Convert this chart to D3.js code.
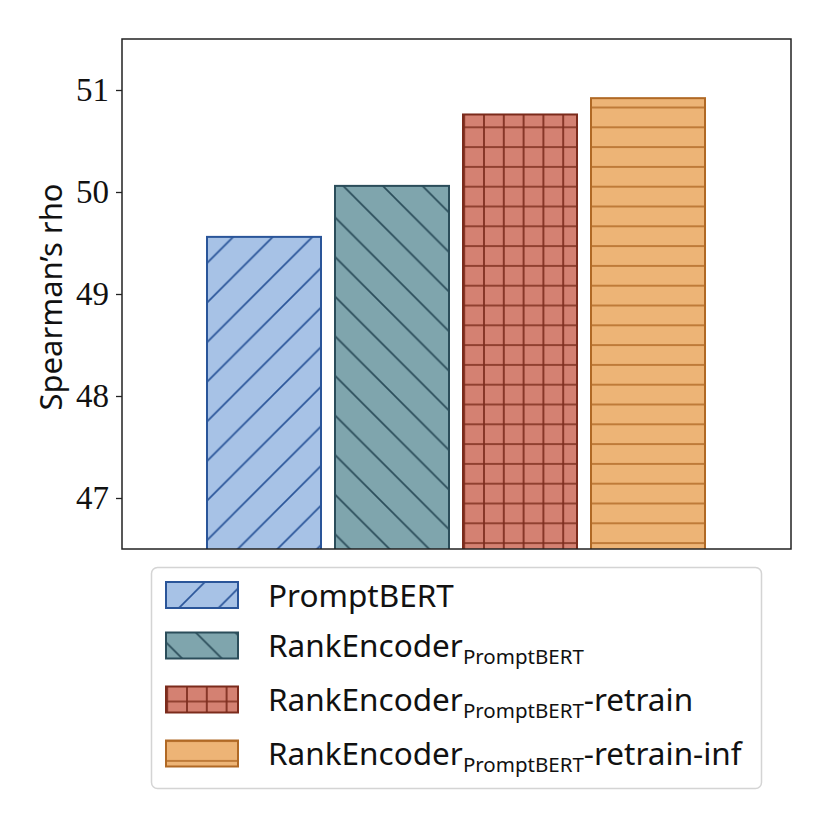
<!DOCTYPE html>
<html>
<head>
<meta charset="utf-8">
<script src="https://cdn.jsdelivr.net/npm/d3@7"></script>
<style>
  body { margin: 0; background: #fff; }
  .tick text { font-family: "Liberation Serif", serif; }
</style>
</head>
<body>
<svg id="chart" width="830" height="830"></svg>
<script>
// chart values
const methods = ["PromptBERT", "RankEncoder", "RankEncoder-retrain", "RankEncoder-retrain-inf"];
const scores = [49.56, 50.06, 50.76, 50.92];
const yTicks = [47, 48, 49, 50, 51];
const legendMain = ["PromptBERT", "RankEncoder", "RankEncoder", "RankEncoder"];
const legendSub = ["", "PromptBERT", "PromptBERT", "PromptBERT"];
const legendTail = ["", "", "-retrain", "-retrain-inf"];
const fills = ["#a7c2e6", "#7fa5ad", "#d48172", "#edb476"];
const edges = ["#2a5599", "#2b4d5a", "#7b2b1c", "#b06925"];
const hatches = ["/", "\\", "+", "-"];

const svg = d3.select("#chart");
const margin = {left: 122, right: 39, top: 39, bottom: 281};
const width = 830 - margin.left - margin.right;
const height = 830 - margin.top - margin.bottom;

// hatch tile size (px) and offsets so the patterns line up like the original
const T = 39.6;
const S = T / 2;

const defs = svg.append("defs");

function makePattern(i) {
  let kind = hatches[i];
  let p = defs.append("pattern")
    .attr("id", "hatch" + i)
    .attr("patternUnits", "userSpaceOnUse");
  let d;
  if (kind === "/") {
    p.attr("width", T).attr("height", T).attr("x", 34.5).attr("y", 0);
    d = `M0,${T}L${T},0M${-T/4},${T/4}L${T/4},${-T/4}M${3*T/4},${5*T/4}L${5*T/4},${3*T/4}`;
  } else if (kind === "\\") {
    p.attr("width", T).attr("height", T).attr("x", 38.5).attr("y", 0);
    d = `M0,0L${T},${T}M${-T/4},${3*T/4}L${T/4},${5*T/4}M${3*T/4},${-T/4}L${5*T/4},${T/4}`;
  } else if (kind === "+") {
    p.attr("width", S).attr("height", S).attr("x", 8.8).attr("y", 8.5);
    d = `M0,0V${S}M${S},0V${S}M0,0H${S}M0,${S}H${S}`;
  } else {
    p.attr("width", S).attr("height", S).attr("x", 0).attr("y", 8.5);
    d = `M0,0H${S}M0,${S}H${S}`;
  }
  p.append("path")
    .attr("d", d)
    .attr("fill", "none")
    .attr("stroke", edges[i])
    .attr("stroke-width", 1.7);
}
methods.forEach((m, i) => makePattern(i));

defs.append("clipPath").attr("id", "plotClip")
  .append("rect")
  .attr("x", margin.left).attr("y", margin.top)
  .attr("width", width).attr("height", height);

// scales
const x = d3.scaleBand()
  .domain(methods)
  .range([200, 712])
  .paddingInner(14 / 128)
  .paddingOuter(7 / 128);

const y = d3.scaleLinear()
  .domain([46.5, 51.5])
  .range([margin.top + height, margin.top]);

// draw a hatched box: fill, hatch overlay, then edge
function hatchedRect(g, i, x0, y0, w, h) {
  g.append("rect").attr("x", x0).attr("y", y0).attr("width", w).attr("height", h)
    .attr("fill", fills[i]);
  g.append("rect").attr("x", x0).attr("y", y0).attr("width", w).attr("height", h)
    .attr("fill", `url(#hatch${i})`);
  g.append("rect").attr("x", x0).attr("y", y0).attr("width", w).attr("height", h)
    .attr("fill", "none")
    .attr("stroke", edges[i])
    .attr("stroke-width", 2);
}

// bars
const bars = svg.append("g").attr("clip-path", "url(#plotClip)");
methods.forEach((m, i) => {
  let top = y(scores[i]);
  hatchedRect(bars, i, x(m), top, x.bandwidth(), y(46.5) + 4 - top);
});

// frame
svg.append("rect")
  .attr("x", margin.left).attr("y", margin.top)
  .attr("width", width).attr("height", height)
  .attr("fill", "none")
  .attr("stroke", "#222")
  .attr("stroke-width", 1.5);

// y axis
const yAxis = d3.axisLeft(y)
  .tickValues(yTicks)
  .tickSize(6)
  .tickPadding(7)
  .tickFormat(d3.format("d"));

svg.append("g")
  .attr("transform", `translate(${margin.left},0)`)
  .call(yAxis)
  .call(g => g.select(".domain").remove())
  .call(g => g.selectAll(".tick line").attr("stroke", "#222").attr("stroke-width", 1.3))
  .call(g => g.selectAll(".tick text").attr("font-size", 33).attr("fill", "#111"));

svg.append("text")
  .attr("transform", `translate(62,${margin.top + height / 2 + 3}) rotate(-90)`)
  .attr("text-anchor", "middle")
  .attr("font-family", "Noto Sans, sans-serif")
  .attr("font-size", 31)
  .attr("fill", "#111")
  .text("Spearman’s rho");

// legend
const legend = svg.append("g");
legend.append("rect")
  .attr("x", 151.5).attr("y", 567.5)
  .attr("width", 610).attr("height", 221)
  .attr("rx", 6)
  .attr("fill", "#fff")
  .attr("stroke", "#d4d4d4")
  .attr("stroke-width", 1.5);

const rowY = [595, 645.5, 699.5, 753.5];
methods.forEach((m, i) => {
  hatchedRect(legend, i, 166, rowY[i] - 13, 72, 26);
  let t = legend.append("text")
    .attr("x", 268)
    .attr("y", rowY[i] + 11.5)
    .attr("font-family", "Noto Sans, sans-serif")
    .attr("font-size", 31.5)
    .attr("fill", "#111");
  t.append("tspan").text(legendMain[i]);
  if (legendSub[i]) {
    t.append("tspan").attr("dy", 7).attr("font-size", 20.5).text(legendSub[i]);
    if (legendTail[i]) {
      t.append("tspan").attr("dy", -7).text(legendTail[i]);
    }
  }
});
</script>
</body>
</html>
